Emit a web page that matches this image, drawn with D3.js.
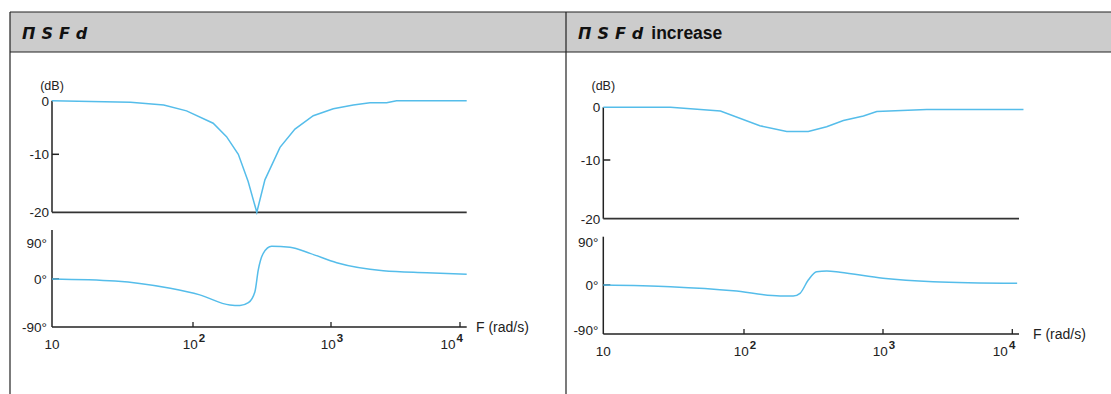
<!DOCTYPE html>
<html>
<head>
<meta charset="utf-8">
<script src="https://cdn.jsdelivr.net/npm/d3@7"></script>
<style>
  body { margin: 0; background: #fff; }
  svg { display: block; font-family: "Liberation Sans", Arial, sans-serif; }
</style>
</head>
<body>
<svg id="chart" width="1111" height="394"></svg>
<script>
// frequency axis (rad/s)
const freqTicks = [10, 100, 1000, 10000];
const freqTickExp = ["", "2", "3", "4"];
const magTicks = [0, -10, -20];
const phaseTicks = [90, 0, -90];
const phaseTickLabels = ["90°", "0°", "-90°"];
const panelTitles = ["", "increase"];

// left panel: notch depth
const magLeftFreq = [10, 36, 62, 90, 140, 175, 213, 251, 290, 332, 427, 548, 744, 1042, 1489, 2005, 2700, 3222, 11270];
const magLeftDb   = [0, -0.3, -0.8, -1.9, -4.2, -6.7, -10, -14.7, -20, -14.4, -8.7, -5.3, -2.8, -1.5, -0.8, -0.4, -0.4, 0, 0];
const phaseLeftFreq = [10, 28, 69, 112, 185, 219, 252, 281, 297, 323, 371, 505, 705, 1107, 2545, 5520, 11270];
const phaseLeftDeg  = [0, -3.8, -17.6, -30, -49, -50, -44.7, -24, 22, 63.6, 81, 78.5, 63.6, 40.4, 20.6, 15.6, 11.7];

// right panel: depth increased
const magRightFreq = [10, 30, 68, 130, 203, 290, 393, 519, 723, 902, 2180, 12200];
const magRightDb   = [0, 0, -0.7, -3.5, -4.6, -4.6, -3.7, -2.5, -1.65, -0.8, -0.4, -0.4];
const phaseRightFreq = [10, 30, 84, 182, 226, 253, 290, 333, 394, 491, 1000, 2440, 10900];
const phaseRightDeg  = [0, -3.3, -11.4, -22, -22, -16.6, 10.4, 27.6, 29, 26.4, 13.9, 6.9, 3.5];

const svg = d3.select("#chart");
const CURVE = "#55bdea";
const INK = "#222";

// table frame
svg.append("rect").attr("x", 10).attr("y", 12).attr("width", 1101).attr("height", 40).attr("fill", "#cccccc");
[12, 52].forEach(y => svg.append("line").attr("x1", 10).attr("x2", 1111).attr("y1", y).attr("y2", y)
    .attr("stroke", INK).attr("stroke-width", 1.2));
[10, 566].forEach(x => svg.append("line").attr("x1", x).attr("x2", x).attr("y1", 12).attr("y2", 394)
    .attr("stroke", INK).attr("stroke-width", 1.2));

const panels = [
    {tx: 22, xStops: [52, 193, 331, 460], xEnd: 466.7, magStops: [100.7, 154.3, 212.3],
     phStops: [242.7, 279, 326.7], phTop: 230, phAxis: 327, fLabelX: 476,
     mag: [magLeftFreq, magLeftDb], ph: [phaseLeftFreq, phaseLeftDeg]},
    {tx: 578, xStops: [603.3, 744, 883, 1012.3], xEnd: 1019, magStops: [107.3, 160, 218.7],
     phStops: [241.7, 285, 330], phTop: 236.7, phAxis: 334, fLabelX: 1033,
     mag: [magRightFreq, magRightDb], ph: [phaseRightFreq, phaseRightDeg]}
];

panels.forEach((p, pi) => {
    const g = svg.append("g");
    const x = d3.scaleLog().domain(freqTicks).range(p.xStops);
    const yMag = d3.scaleLinear().domain(magTicks).range(p.magStops);
    const yPh = d3.scaleLinear().domain(phaseTicks).range(p.phStops);
    const x0 = x(freqTicks[0]);

    //header title
    const title = g.append("text").attr("x", p.tx).attr("y", 38.5).attr("fill", "#111");
    title.append("tspan")
        .attr("font-family", "DejaVu Sans")
        .attr("font-style", "italic")
        .attr("font-weight", "bold")
        .attr("font-size", 16)
        .attr("letter-spacing", 6)
        .text("ΠSFd");
    if (panelTitles[pi]) {
        title.append("tspan").attr("dx", 2).attr("font-weight", "bold").attr("font-size", 17.5)
            .text(panelTitles[pi]);
    }

    //magnitude plot
    g.append("text").attr("x", x0).attr("y", 90).attr("text-anchor", "middle")
        .attr("font-size", 12.5).attr("fill", INK).text("(dB)");
    g.append("line").attr("x1", x0).attr("x2", x0).attr("y1", yMag(0)).attr("y2", yMag(-20))
        .attr("stroke", INK).attr("stroke-width", 1.5);
    g.append("line").attr("x1", x0).attr("x2", p.xEnd).attr("y1", yMag(-20)).attr("y2", yMag(-20))
        .attr("stroke", "#333").attr("stroke-width", 1.7);
    g.append("line").attr("x1", x0).attr("x2", x0 + 7).attr("y1", yMag(-10)).attr("y2", yMag(-10))
        .attr("stroke", INK).attr("stroke-width", 1.5);
    g.selectAll(".magLbl").data(magTicks).join("text")
        .attr("x", x0 - 3).attr("y", d => yMag(d) + 5)
        .attr("text-anchor", "end").attr("font-size", 13.5).attr("fill", INK)
        .text(d => d);

    const magLine = d3.line().x(d => x(d[0])).y(d => yMag(d[1]));
    g.append("path").datum(d3.zip(p.mag[0], p.mag[1]))
        .attr("d", magLine).attr("fill", "none").attr("stroke", CURVE).attr("stroke-width", 1.5);

    //phase plot
    g.append("line").attr("x1", x0).attr("x2", x0).attr("y1", p.phTop).attr("y2", p.phAxis)
        .attr("stroke", INK).attr("stroke-width", 1.5);
    g.append("line").attr("x1", x0).attr("x2", p.xEnd).attr("y1", p.phAxis).attr("y2", p.phAxis)
        .attr("stroke", INK).attr("stroke-width", 1.5);
    g.append("line").attr("x1", x0).attr("x2", x0 + 7).attr("y1", yPh(0)).attr("y2", yPh(0))
        .attr("stroke", INK).attr("stroke-width", 1.5);
    g.selectAll(".phLbl").data(phaseTicks).join("text")
        .attr("x", x0 - 5).attr("y", d => yPh(d) + 5)
        .attr("text-anchor", "end").attr("font-size", 13.5).attr("fill", INK)
        .text((d, i) => phaseTickLabels[i]);

    const phLine = d3.line().x(d => x(d[0])).y(d => yPh(d[1])).curve(d3.curveMonotoneX);
    g.append("path").datum(d3.zip(p.ph[0], p.ph[1]))
        .attr("d", phLine).attr("fill", "none").attr("stroke", CURVE).attr("stroke-width", 1.5);

    //frequency ticks and labels
    g.selectAll(".fTick").data(freqTicks.slice(1)).join("line")
        .attr("x1", d => x(d)).attr("x2", d => x(d))
        .attr("y1", p.phAxis - 5).attr("y2", p.phAxis)
        .attr("stroke", INK).attr("stroke-width", 1.3);
    freqTicks.forEach((f, i) => {
        const last = i === freqTicks.length - 1;
        const t = g.append("text")
            .attr("x", last ? x(f) + 3 : x(f) + (i === 0 ? 0 : 1))
            .attr("y", p.phAxis + 22)
            .attr("text-anchor", last ? "end" : "middle")
            .attr("font-size", 13.5).attr("fill", INK);
        t.append("tspan").text("10");
        if (freqTickExp[i]) {
            t.append("tspan").attr("dx", 1).attr("dy", -7).attr("font-size", 11.5).attr("font-weight", "bold")
                .text(freqTickExp[i]);
        }
    });
    g.append("text").attr("x", p.fLabelX).attr("y", p.phAxis + 5)
        .attr("font-size", 14).attr("fill", INK).text("F (rad/s)");
});
</script>
</body>
</html>
